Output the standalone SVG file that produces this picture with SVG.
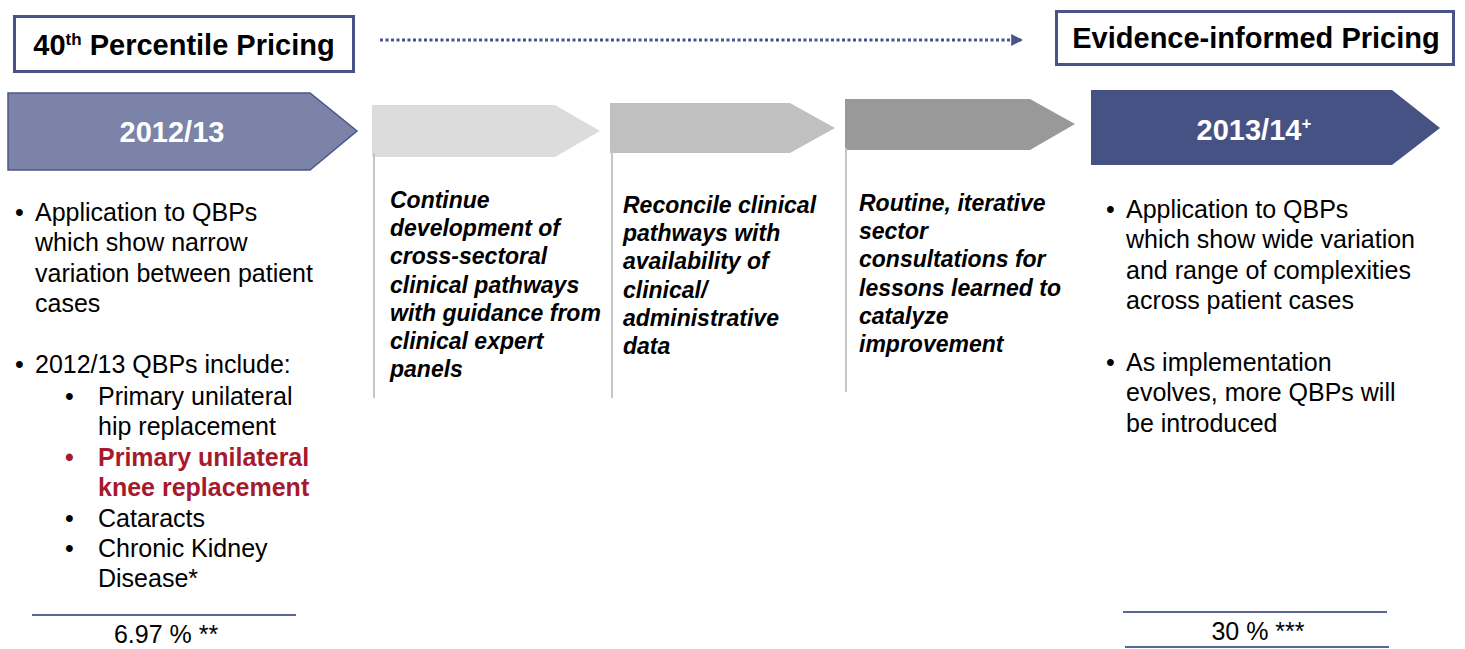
<svg xmlns="http://www.w3.org/2000/svg" width="1465" height="649" viewBox="0 0 1465 649">
<defs>
<style>
.t{font-family:"Liberation Sans",Arial,sans-serif}
.title{font-size:29px;font-weight:bold;fill:#000}
.yr{font-size:29px;font-weight:bold;fill:#fff}
.it{font-size:23px;font-weight:bold;font-style:italic;fill:#000}
.bl{font-size:25px;fill:#000}
.red{fill:#a6192e;font-weight:bold}
.frame{fill:#fff;stroke:#4a5386;stroke-width:3}
.vl{stroke:#c6c6c6;stroke-width:2;fill:none}
.hl{stroke:#5b6596;stroke-width:2;fill:none}
</style>
<marker id="ah" viewBox="0 0 10 10" refX="9" refY="5" markerWidth="4" markerHeight="4" orient="auto" markerUnits="strokeWidth">
<path d="M0,0 L10,5 L0,10 Z" fill="#4a5386"/>
</marker>
</defs>
<rect width="1465" height="649" fill="#fff"/>

<g id="connectors">
<line x1="380" y1="40" x2="1022" y2="40" stroke="#4a5386" stroke-width="3" stroke-dasharray="3 2.5" marker-end="url(#ah)"/>
</g>

<g id="box-40th">
<rect class="frame" x="14.5" y="16.5" width="339" height="55"/>
<text class="t title" x="184" y="55" text-anchor="middle">40<tspan font-size="17" dy="-10">th</tspan><tspan dy="10"> Percentile Pricing</tspan></text>
</g>

<g id="box-evidence">
<rect class="frame" x="1056.5" y="11.5" width="397" height="53"/>
<text class="t title" x="1256" y="48" text-anchor="middle">Evidence-informed Pricing</text>
</g>

<g id="chevron-2012">
<polygon points="8,93 310,93 357,131 310,170 8,170" fill="#7b83a9" stroke="#4d5688" stroke-width="1.5"/>
<text class="t yr" x="172" y="142" text-anchor="middle">2012/13</text>
</g>

<g id="chevron-2">
<polygon points="372,105 555,105 600,131 555,157 372,157" fill="#dcdcdc"/>
<line class="vl" x1="374" y1="153" x2="374" y2="398"/>
<text class="t it" x="390" y="208">
<tspan x="390">Continue</tspan>
<tspan x="390" dy="28.2">development of</tspan>
<tspan x="390" dy="28.2">cross-sectoral</tspan>
<tspan x="390" dy="28.2">clinical pathways</tspan>
<tspan x="390" dy="28.2">with guidance from</tspan>
<tspan x="390" dy="28.2">clinical expert</tspan>
<tspan x="390" dy="28.2">panels</tspan>
</text>
</g>

<g id="chevron-3">
<polygon points="610,103 790,103 835,128 790,153 610,153" fill="#c0c0c0"/>
<line class="vl" x1="612" y1="150" x2="612" y2="398"/>
<text class="t it" x="623" y="213">
<tspan x="623">Reconcile clinical</tspan>
<tspan x="623" dy="28.2">pathways with</tspan>
<tspan x="623" dy="28.2">availability of</tspan>
<tspan x="623" dy="28.2">clinical/</tspan>
<tspan x="623" dy="28.2">administrative</tspan>
<tspan x="623" dy="28.2">data</tspan>
</text>
</g>

<g id="chevron-4">
<polygon points="845,99 1030,99 1075,124 1030,150 845,150" fill="#999999"/>
<line class="vl" x1="846" y1="148" x2="846" y2="392"/>
<text class="t it" x="859" y="211">
<tspan x="859">Routine, iterative</tspan>
<tspan x="859" dy="28.2">sector</tspan>
<tspan x="859" dy="28.2">consultations for</tspan>
<tspan x="859" dy="28.2">lessons learned to</tspan>
<tspan x="859" dy="28.2">catalyze</tspan>
<tspan x="859" dy="28.2">improvement</tspan>
</text>
</g>

<g id="chevron-2013">
<polygon points="1091,90 1392,90 1440,128 1392,165 1091,165" fill="#475284"/>
<text class="t yr" x="1254" y="140" text-anchor="middle">2013/14<tspan font-size="17" dy="-11">+</tspan></text>
</g>

<g id="left-text">
<text class="t bl" x="15" y="221">•</text>
<text class="t bl" x="35" y="221">
<tspan x="35">Application to QBPs</tspan>
<tspan x="35" dy="30.4">which show narrow</tspan>
<tspan x="35" dy="30.4">variation between patient</tspan>
<tspan x="35" dy="30.4">cases</tspan>
</text>
<text class="t bl" x="15" y="373">•</text>
<text class="t bl" x="35" y="373">2012/13 QBPs include:</text>
<text class="t bl" x="65" y="405">•</text>
<text class="t bl" x="98" y="405">
<tspan x="98">Primary unilateral</tspan>
<tspan x="98" dy="30.4">hip replacement</tspan>
</text>
<text class="t bl red" x="65" y="466">•</text>
<text class="t bl red" x="98" y="466">
<tspan x="98">Primary unilateral</tspan>
<tspan x="98" dy="30.4">knee replacement</tspan>
</text>
<text class="t bl" x="65" y="527">•</text>
<text class="t bl" x="98" y="527">Cataracts</text>
<text class="t bl" x="65" y="557">•</text>
<text class="t bl" x="98" y="557">
<tspan x="98">Chronic Kidney</tspan>
<tspan x="98" dy="30.4">Disease*</tspan>
</text>
<line class="hl" x1="32" y1="615" x2="296" y2="615"/>
<text class="t bl" x="166" y="643" text-anchor="middle">6.97 % **</text>
</g>

<g id="right-text">
<text class="t bl" x="1106" y="218">•</text>
<text class="t bl" x="1126" y="218">
<tspan x="1126">Application to QBPs</tspan>
<tspan x="1126" dy="30.4">which show wide variation</tspan>
<tspan x="1126" dy="30.4">and range of complexities</tspan>
<tspan x="1126" dy="30.4">across patient cases</tspan>
</text>
<text class="t bl" x="1106" y="371">•</text>
<text class="t bl" x="1126" y="371">
<tspan x="1126">As implementation</tspan>
<tspan x="1126" dy="30.4">evolves, more QBPs will</tspan>
<tspan x="1126" dy="30.4">be introduced</tspan>
</text>
<line class="hl" x1="1123" y1="612" x2="1387" y2="612"/>
<text class="t bl" x="1258" y="640" text-anchor="middle">30 % ***</text>
<line class="hl" x1="1125" y1="647" x2="1389" y2="647"/>
</g>
</svg>
